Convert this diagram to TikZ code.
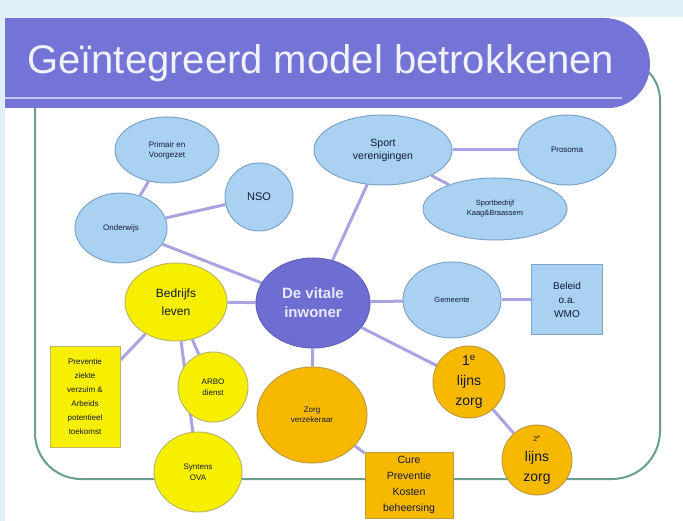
\documentclass[tikz,border=0pt]{standalone}
\usepackage{fontspec}
\setmainfont{Liberation Sans}
\usetikzlibrary{shapes.geometric}
\definecolor{bgblue}{RGB}{223,240,250}
\definecolor{barpurple}{RGB}{116,116,214}
\definecolor{barline}{RGB}{196,196,240}
\definecolor{titletext}{RGB}{242,242,255}
\definecolor{framegreen}{RGB}{106,158,142}
\definecolor{edgecol}{RGB}{168,164,226}
\definecolor{lbfill}{RGB}{169,209,242}
\definecolor{lbdraw}{RGB}{127,163,200}
\definecolor{yfill}{RGB}{246,240,0}
\definecolor{ydraw}{RGB}{190,184,96}
\definecolor{ofill}{RGB}{247,184,0}
\definecolor{odraw}{RGB}{192,154,64}
\definecolor{vfill}{RGB}{110,110,210}
\definecolor{vdraw}{RGB}{96,96,184}
\definecolor{vtext}{RGB}{232,232,255}
\definecolor{dtext}{RGB}{20,26,56}
\pgfdeclarelayer{back}
\pgfsetlayers{back,main}
\newcommand{\fs}[2]{\fontsize{#1}{#2}\selectfont}
\begin{document}
\begin{tikzpicture}[x=1pt,y=-1pt,
  base/.style={inner sep=0pt, align=center, text=dtext, line width=1pt},
  lbell/.style={base, ellipse, fill=lbfill, draw=lbdraw},
  lbcirc/.style={base, circle, fill=lbfill, draw=lbdraw},
  lbbox/.style={base, rectangle, fill=lbfill, draw=lbdraw},
  yell/.style={base, ellipse, fill=yfill, draw=ydraw},
  ycirc/.style={base, circle, fill=yfill, draw=ydraw},
  ybox/.style={base, rectangle, fill=yfill, draw=ydraw},
  oell/.style={base, ellipse, fill=ofill, draw=odraw},
  ocirc/.style={base, circle, fill=ofill, draw=odraw},
  obox/.style={base, rectangle, fill=ofill, draw=odraw},
  link/.style={draw=edgecol, line width=3pt}]
\useasboundingbox (0,0) rectangle (683,521);
\begin{pgfonlayer}{back}
\fill[bgblue] (0,0) rectangle (683,521);
\fill[white] (5,17) rectangle (683,521);
\draw[framegreen, line width=2pt] (35,100) -- (35,433) arc[start angle=180, end angle=90, radius=46]
  -- (612,479) arc[start angle=90, end angle=0, radius=48]
  -- (660,100) arc[start angle=0, end angle=-90, radius=40] -- (75,60);
\end{pgfonlayer}
% title bar
\fill[barpurple] (5,18) -- (604,18) to[out=0,in=90] (650,64) to[out=-90,in=0] (608,108) -- (5,108) -- cycle;
\draw[barline, line width=2pt] (5,98) -- (622,98);
\node[inner sep=0pt, anchor=west, text=titletext, font=\fs{40}{44}] (title) at (27,63) {Geïntegreerd model betrokkenen};
% nodes
\node[lbell, minimum width=104, minimum height=66, font=\fs{8}{10}] (prim) at (167,150) {Primair en\\Voorgezet};
\node[lbcirc, minimum size=68, font=\fs{11}{13}] (nso) at (259,197) {NSO};
\node[lbell, minimum width=92, minimum height=70, font=\fs{8}{10}] (ond) at (121,228) {Onderwijs};
\node[lbell, minimum width=138, minimum height=70, font=\fs{10.5}{13}] (sport) at (383,150) {Sport\\verenigingen};
\node[lbell, minimum width=98, minimum height=70, font=\fs{8}{10}] (pros) at (567,150) {Prosoma};
\node[lbell, minimum width=144, minimum height=62, font=\fs{7.5}{10}] (sbed) at (495,209) {Sportbedrijf\\Kaag\&Braassem};
\node[base, ellipse, fill=vfill, draw=vdraw, minimum width=114, minimum height=90, text=vtext, font=\bfseries\fs{15}{19}] (vit) at (313,303) {De vitale\\inwoner};
\node[lbell, minimum width=98, minimum height=76, font=\fs{7.5}{10}] (gem) at (452,300) {Gemeente};
\node[lbbox, minimum width=71, minimum height=70, font=\fs{10}{14}] (bel) at (567,300) {Beleid\\o.a.\\WMO};
\node[ocirc, minimum size=72, font=\fs{14}{20}] (l1) at (469,382) {1\textsuperscript{e}\\lijns\\zorg};
\node[ocirc, minimum size=70, font=\fs{14}{20}] (l2) at (537,460) {{\fs{7}{10}2\textsuperscript{e}}\\lijns\\zorg};
\node[oell, minimum width=110, minimum height=96, font=\fs{8}{10}] (zorg) at (312,415) {Zorg\\verzekeraar};
\node[obox, minimum width=88, minimum height=66, font=\fs{10.5}{16}] (cure) at (409,485) {Cure\\Preventie\\Kosten\\beheersing};
\node[yell, minimum width=102, minimum height=78, font=\fs{12}{18}] (bedr) at (176,302) {Bedrijfs\\leven};
\node[ybox, minimum width=70, minimum height=100, font=\fs{8}{14}] (prev) at (85,397) {Preventie\\ziekte\\verzuim \&\\Arbeids\\potentieel\\toekomst};
\node[ycirc, minimum size=70, font=\fs{8}{11}] (arbo) at (213,387) {ARBO\\dienst};
\node[yell, minimum width=88, minimum height=80, font=\fs{8}{11}] (synt) at (198,472) {Syntens\\OVA};
% connectors
\begin{pgfonlayer}{back}
\draw[link] (prim) -- (ond);
\draw[link] (ond) -- (nso);
\draw[link] (ond) -- (vit);
\draw[link] (sport) -- (vit);
\draw[link] (sport) -- (pros);
\draw[link] (sport) -- (sbed);
\draw[link] (vit) -- (bedr);
\draw[link] (vit) -- (gem);
\draw[link] (gem) -- (bel);
\draw[link] (vit) -- (l1);
\draw[link] (l1) -- (l2);
\draw[link] (vit) -- (zorg);
\draw[link] (zorg) -- (cure);
\draw[link] (bedr) -- (prev);
\draw[link] (bedr) -- (arbo);
\draw[link] (bedr) -- (synt);
\end{pgfonlayer}
\end{tikzpicture}
\end{document}
